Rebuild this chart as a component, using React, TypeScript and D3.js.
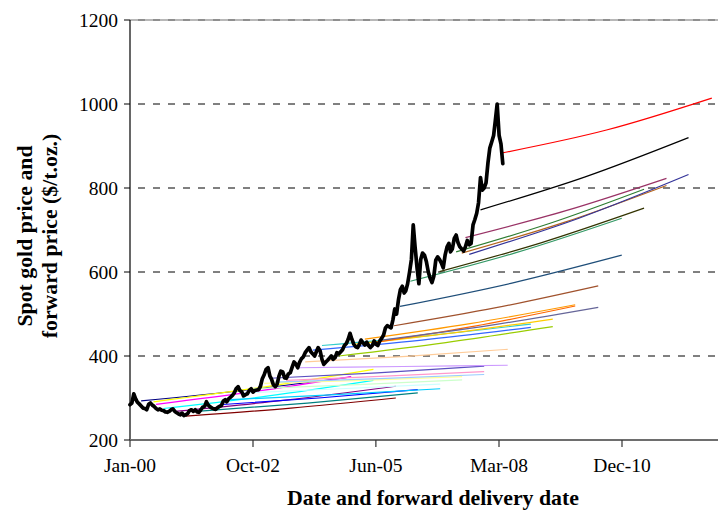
import React from "react";
import * as d3 from "d3";

const WIDTH = 718;
const HEIGHT = 511;

// Axis values
const yTicks = [200, 400, 600, 800, 1000, 1200];
const gridValues = [400, 600, 800, 1000, 1200];
const xTickDates = ["2000-01-01", "2002-10-01", "2005-06-30", "2008-03-31", "2010-12-30"];
const xDomain = ["2000-01-01", "2013-09-29"];

// Spot gold price, $/t.oz., sampled on the 1st and 16th of each month from Jan 2000
const spotPrices = [
  284, 288, 310, 298, 290, 286, 281, 276, 275, 272, 285, 288, 283, 280, 275, 272, 274, 271, 270, 267, 266, 268, 272, 274,
  268, 265, 262, 260, 264, 258, 260, 263, 270, 272, 268, 272, 267, 266, 272, 278, 280, 291, 283, 279, 276, 274, 273, 277,
  280, 282, 293, 296, 291, 298, 302, 306, 312, 322, 327, 318, 315, 305, 308, 310, 318, 322, 314, 318, 319, 320, 328, 346,
  356, 368, 372, 352, 345, 332, 327, 333, 352, 364, 362, 348, 347, 357, 360, 373, 386, 381, 372, 385, 394, 398, 408, 414,
  420, 410, 405, 400, 410, 420, 412, 392, 380, 385, 390, 395, 400, 392, 396, 408, 405, 410, 415, 425, 430, 440, 454, 440,
  428, 422, 420, 428, 438, 432, 426, 433, 425, 420, 425, 436, 428, 425, 436, 442, 450, 467, 472, 470, 467, 486, 512, 500,
  535, 558, 566, 550, 555, 572, 600, 630, 712, 660, 610, 572, 630, 645, 640, 625, 600, 585, 575, 590, 628, 636, 630, 622,
  610, 640, 660, 668, 648, 655, 680, 688, 670, 660, 655, 650, 660, 675, 665, 668, 712, 725, 740, 765, 825, 795, 800, 812,
  860, 895, 910, 925, 960, 1000, 925, 905, 858,
];

// Forward curves: quote date, last delivery date, prices at start, half-way and end
const fwdColors = [
  "#000080", "#FF00FF", "#FFFF00", "#00FFFF", "#800080", "#800000", "#008080", "#0000FF",
  "#00CCFF", "#CCFFFF", "#CCFFCC", "#FFFF99", "#99CCFF", "#FF99CC", "#5B4FC0", "#CC99FF",
  "#FFCC99", "#3366FF", "#33CCCC", "#99CC00", "#FFCC00", "#FF9900", "#FF6600", "#666699",
  "#A0522D", "#1F4E79", "#339966", "#333300", "#2E7D32", "#B5651D", "#993366", "#333399",
  "#000000", "#FF0000",
];
const fwdStartDates = [
  "2000-04-01", "2000-08-01", "2000-07-10", "2000-10-01", "2001-01-01", "2001-04-01", "2001-07-01", "2002-01-01",
  "2002-04-01", "2002-07-01", "2002-10-01", "2003-01-01", "2003-04-01", "2003-07-01", "2003-02-18", "2003-10-01",
  "2003-12-01", "2004-02-01", "2004-04-16", "2004-09-01", "2005-01-01", "2005-04-01", "2005-06-16", "2005-08-16",
  "2005-11-25", "2006-01-13", "2006-04-07", "2006-12-01", "2007-04-16", "2007-06-01", "2007-07-01", "2007-08-01",
  "2007-11-01", "2008-04-18",
];
const fwdEndDates = [
  "2004-12-10", "2004-12-10", "2005-06-10", "2005-06-10", "2005-12-10", "2005-12-10", "2006-06-07", "2006-06-07",
  "2006-12-07", "2006-12-07", "2007-06-04", "2007-06-04", "2007-12-01", "2007-12-01", "2007-12-01", "2008-06-10",
  "2008-06-10", "2008-12-16", "2008-12-16", "2009-06-13", "2009-06-13", "2009-12-13", "2009-12-13", "2010-06-19",
  "2010-06-19", "2010-12-28", "2010-12-28", "2011-06-28", "2011-06-28", "2011-12-28", "2011-12-28", "2012-06-25",
  "2012-06-25", "2013-01-01",
];
const fwdStartPrices = [
  293, 285, 291, 275, 268, 257, 268, 284, 296, 312, 322, 335, 338, 342, 347, 372,
  386, 414, 425, 400, 428, 440, 432, 438, 472, 518, 578, 601, 648, 645, 682, 642,
  748, 883,
];
const fwdMidPrices = [
  319, 315, 326, 305, 295, 276, 288, 300, 308, 322, 332, 342, 346, 352, 360, 375,
  399, 438, 448, 432, 455, 477, 471, 473, 515, 573, 646, 670, 716, 718, 746, 728,
  826, 938,
];
const fwdEndPrices = [
  350, 351, 368, 342, 328, 300, 312, 320, 322, 333, 343, 351, 356, 363, 376, 378,
  416, 468, 476, 470, 488, 522, 519, 516, 567, 640, 728, 752, 797, 806, 823, 832,
  920, 1014,
];

const parse = d3.utcParse("%Y-%m-%d");
const fmt = d3.utcFormat("%b-%y");
const FONT = "'Liberation Serif', 'Times New Roman', serif";

type Pt = { date: Date; price: number };

export default function App() {
  const left = 130;
  const right = 745;
  const top = 20;
  const bottom = 440;

  const x = d3
    .scaleUtc()
    .domain([parse(xDomain[0]) as Date, parse(xDomain[1]) as Date])
    .range([left, right]);
  const y = d3.scaleLinear().domain([200, 1200]).range([bottom, top]);

  const line = d3
    .line<Pt>()
    .x((d) => x(d.date))
    .y((d) => y(d.price));
  const curve = d3
    .line<Pt>()
    .x((d) => x(d.date))
    .y((d) => y(d.price))
    .curve(d3.curveNatural);

  const spot: Pt[] = spotPrices.map((p, i) => ({
    date: new Date(Date.UTC(2000, Math.floor(i / 2), i % 2 ? 16 : 1)),
    price: p,
  }));

  const forwards = fwdColors.map((color, i) => {
    const s = parse(fwdStartDates[i]) as Date;
    const e = parse(fwdEndDates[i]) as Date;
    const m = new Date((s.getTime() + e.getTime()) / 2);
    const pts: Pt[] = [
      { date: s, price: fwdStartPrices[i] },
      { date: m, price: fwdMidPrices[i] },
      { date: e, price: fwdEndPrices[i] },
    ];
    return { color, d: curve(pts) || "" };
  });

  return (
    <div style={{ position: "absolute", left: 0, top: 0 }}>
      <svg width={WIDTH} height={HEIGHT} style={{ display: "block", background: "#fff" }}>
        <rect x={0} y={0} width={WIDTH} height={HEIGHT} fill="#fff" />
        {/* plot border at the top, then dashed gridlines */}
        <line x1={left} x2={right} y1={y(1200)} y2={y(1200)} stroke="#b8b8b8" strokeWidth={2} />
        {gridValues.map((v) => (
          <line
            key={v}
            x1={left}
            x2={right}
            y1={y(v)}
            y2={y(v)}
            stroke={v === 1200 ? "#666" : "#000"}
            strokeWidth={1}
            strokeDasharray="7,8"
            strokeDashoffset={-8}
          />
        ))}

        {/* forward price curves */}
        {forwards.map((f, i) => (
          <path key={i} d={f.d} fill="none" stroke={f.color} strokeWidth={1.2} />
        ))}

        {/* spot gold price */}
        <path
          d={line(spot) || ""}
          fill="none"
          stroke="#000"
          strokeWidth={3.7}
          strokeLinejoin="round"
          strokeLinecap="round"
        />

        {/* y axis */}
        <line x1={left} x2={left} y1={top} y2={bottom} stroke="#000" strokeWidth={1.2} />
        {yTicks.map((v) => (
          <g key={v}>
            <line x1={left - 6} x2={left} y1={y(v)} y2={y(v)} stroke="#000" strokeWidth={1} />
            <text
              x={left - 12}
              y={y(v) + 6.5}
              textAnchor="end"
              fontFamily={FONT}
              fontSize={19.5}
              fill="#000"
            >
              {v}
            </text>
          </g>
        ))}

        {/* x axis */}
        <line x1={left} x2={right} y1={bottom} y2={bottom} stroke="#6e6e6e" strokeWidth={2} />
        {xTickDates.map((s) => {
          const d = parse(s) as Date;
          const xv = x(d);
          return (
            <g key={s}>
              <line x1={xv} x2={xv} y1={bottom} y2={bottom + 7} stroke="#333" strokeWidth={1.2} />
              <text
                x={xv}
                y={bottom + 32}
                textAnchor="middle"
                fontFamily={FONT}
                fontSize={19.5}
                fill="#000"
              >
                {fmt(d)}
              </text>
            </g>
          );
        })}

        {/* axis titles */}
        <text
          x={433}
          y={505}
          textAnchor="middle"
          fontFamily={FONT}
          fontWeight="bold"
          fontSize={21.8}
          fill="#000"
        >
          Date and forward delivery date
        </text>
        <g transform="translate(32,236) rotate(-90)">
          <text x={0} y={0} textAnchor="middle" fontFamily={FONT} fontWeight="bold" fontSize={21.8} fill="#000">
            Spot gold price and
          </text>
        </g>
        <g transform="translate(57,236) rotate(-90)">
          <text x={0} y={0} textAnchor="middle" fontFamily={FONT} fontWeight="bold" fontSize={21.8} fill="#000">
            forward price ($/t.oz.)
          </text>
        </g>
      </svg>
    </div>
  );
}
